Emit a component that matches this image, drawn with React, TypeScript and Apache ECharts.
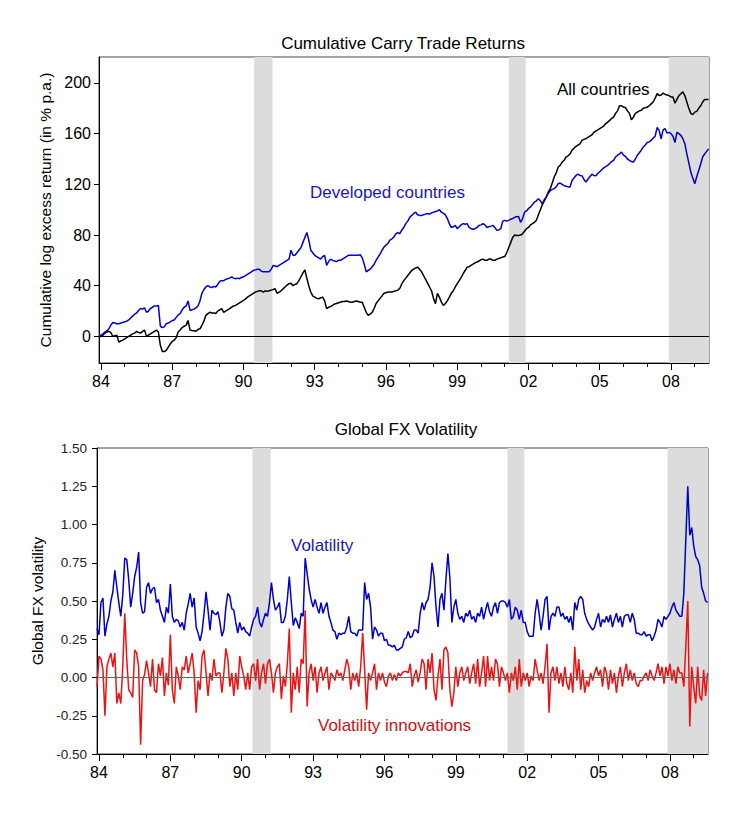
import React, { useEffect, useRef } from "react";
import * as echarts from "echarts";

// Monthly observations, Dec 1983 .. Aug 2009
const firstYear = 1984;
const firstMonthOffset = -1; // Dec 1983

const xTickYears = [1984, 1985, 1986, 1987, 1988, 1989, 1990, 1991, 1992, 1993, 1994, 1995, 1996, 1997, 1998, 1999, 2000, 2001, 2002, 2003, 2004, 2005, 2006, 2007, 2008, 2009];
const xLabelYears = [1984, 1987, 1990, 1993, 1996, 1999, 2002, 2005, 2008];
const topYTicks = [0, 40, 80, 120, 160, 200];
const recessions = [
  [1990.45, 1991.22],
  [2001.17, 2001.88],
  [2007.9, 2009.6],
];

const allCountries = [
  0,
  0, 1, 2.6, 3.5, 4, 3, 0, 0.5, 1, -4.5, -3.5, -3,
  -2, -1, 0, 1, 2, 2.6, 4, 3, 2.6, 4, 5, 0,
  1, 2, 3, 4, 5, 3.4, -7, -12, -12, -11, -8.4, -6,
  -4, -3, -1, 3.4, 5, 7, 8, 8.7, 12.6, 5, 4.7, 4.5,
  4, 5.5, 6, 8.7, 12, 16.6, 18, 19, 18.5, 18.5, 18, 20,
  21, 22, 19, 20, 21, 22, 23, 24, 24.5, 25.5, 26.5, 27.5,
  28.5, 29.5, 31, 32, 33, 34, 35, 35.5, 36, 36, 35, 36,
  35.5, 36, 36.5, 37, 37.6, 34, 35, 36, 37.5, 39, 40.5, 41.6,
  42, 40, 41, 41.6, 44, 47, 50, 52.5, 46, 40, 35, 32,
  31, 30, 29.7, 30.5, 31, 28, 22, 23, 23.5, 24.5, 25.5, 26,
  26.5, 27, 27.5, 27.5, 28, 27.5, 27, 27, 27.5, 28, 27.5, 27,
  27, 23, 19, 16.6, 17.5, 19, 22, 26, 28, 30, 32, 34,
  34.5, 35, 35, 35, 35.5, 36, 36.5, 38, 41.6, 44, 46, 48,
  50, 52, 53, 54, 54.7, 53, 51, 48, 45, 42, 39, 36,
  30, 25.8, 34, 31, 27, 24.5, 26, 28, 31, 34, 36, 39,
  41.6, 44, 46.5, 49.5, 52, 54.7, 55, 56, 57, 58, 58.7, 59.5,
  60.5, 61, 60, 60, 61, 61, 60, 60, 61, 61.5, 62, 62.6,
  63, 66, 70, 74, 78, 80, 79.7, 79.7, 80, 81, 83, 85,
  86, 88, 89, 90, 91.6, 96, 100, 104, 107, 110, 114, 116.6,
  121, 125.8, 129, 133.7, 135, 137.6, 139, 141.6, 142.5, 144, 147, 148.5,
  150, 151, 152, 154.7, 155.5, 156, 157, 158, 159, 161, 162, 163,
  164, 165, 166, 168, 169, 170.5, 172, 173, 176, 178, 182, 182,
  181, 180.5, 178, 176, 171, 173, 176, 177, 178, 178.5, 180, 180.5,
  181, 182, 183.5, 185, 188, 191.6, 190, 190.5, 192, 191, 190.5, 190,
  189, 189, 184, 187, 190, 191.5, 193, 190, 185, 180, 176, 175,
  177, 177.6, 180, 182, 185, 187, 187, 187,
];

const developedCountries = [
  0,
  1, 2, 3.4, 4.5, 6, 9, 11, 10.5, 10, 10, 10.5, 11,
  11.5, 12, 13, 14.5, 16, 17.5, 18.5, 20.5, 22, 21.5, 22.5, 19,
  20, 22, 23, 24, 24, 24.5, 8, 7, 7.5, 10, 10.5, 11.5,
  12.5, 13, 15, 17, 18, 21, 23, 24, 28, 20.5, 21, 21.5,
  22.5, 24, 28, 34, 37, 39, 40, 39, 38.5, 39.5, 39, 41,
  43.5, 44, 44, 45, 45.5, 46, 47, 46, 45.5, 46, 45.5, 46.5,
  47, 48, 49, 50, 51, 52, 52.5, 53, 53, 51.5, 51, 51,
  51, 51, 53, 56, 55.5, 55, 56, 57, 58, 59, 60, 61,
  68, 64, 64, 66, 68, 70, 74, 78, 82, 76, 68, 66,
  64, 63, 62, 61, 63, 64, 56, 59, 61, 60, 59.5, 59,
  60, 60, 61, 62, 63, 64, 64, 64, 64, 64, 64, 64.5,
  62, 57, 51, 52, 53, 55, 57, 60, 62.5, 65, 68, 70.5,
  72, 73.5, 76, 77, 78.5, 81, 82, 81, 84, 86, 89, 91,
  94, 95.5, 97, 98, 96, 95.5, 95.5, 96, 96.5, 97, 96.5, 97.5,
  98, 98.5, 99, 100, 98, 97, 96, 93, 89, 86, 86.5, 87.6,
  85, 86.5, 88, 89, 88.5, 89, 86, 85, 84.5, 85, 86, 87.6,
  88, 89, 88, 86, 86.5, 87, 87.6, 86, 83.7, 84, 85, 91,
  91.6, 91, 91.6, 92.5, 93, 94, 94.5, 94.7, 90, 93, 98, 99,
  101, 102, 104, 106, 107, 108.7, 107, 104.7, 108, 110, 113, 115,
  116, 116.6, 118, 120.5, 121, 120, 119, 118.5, 118, 118, 123, 125,
  127, 128, 127, 126.8, 124, 121.8, 124, 126, 128, 127, 126.8, 128.5,
  130, 131.5, 133, 134, 135, 136.5, 138, 139, 141.6, 143, 144, 145.5,
  143, 142, 140, 139, 138, 137.6, 140, 143, 145, 147, 149.5, 151,
  153, 153.5, 154.7, 156.5, 158, 165, 162.6, 156, 163, 164, 160.5, 161,
  160, 158, 153, 161, 160, 158.7, 156, 152, 144, 137, 129.7, 125,
  120.5, 126, 131, 136, 141.6, 144, 146, 148,
];

const volatility = [
  0.32,
  0.28, 0.49, 0.52, 0.27, 0.35, 0.40, 0.50, 0.56, 0.70, 0.59, 0.49, 0.40,
  0.54, 0.78, 0.77, 0.64, 0.46, 0.55, 0.66, 0.72, 0.82, 0.49, 0.42, 0.43,
  0.59, 0.62, 0.55, 0.58, 0.59, 0.49, 0.51, 0.44, 0.40, 0.36, 0.46, 0.42,
  0.61, 0.40, 0.36, 0.38, 0.37, 0.33, 0.36, 0.31, 0.42, 0.48, 0.55, 0.46,
  0.52, 0.33, 0.29, 0.24, 0.30, 0.42, 0.56, 0.44, 0.31, 0.44, 0.42, 0.41,
  0.43, 0.36, 0.27, 0.31, 0.46, 0.55, 0.53, 0.45, 0.44, 0.36, 0.29, 0.36,
  0.31, 0.33, 0.30, 0.29, 0.27, 0.33, 0.38, 0.40, 0.46, 0.36, 0.33, 0.38,
  0.42, 0.40, 0.49, 0.62, 0.51, 0.44, 0.46, 0.49, 0.36, 0.36, 0.40, 0.51,
  0.66, 0.49, 0.34, 0.39, 0.36, 0.32, 0.42, 0.40, 0.78, 0.68, 0.58, 0.51,
  0.46, 0.51, 0.46, 0.42, 0.49, 0.42, 0.46, 0.49, 0.40, 0.36, 0.31, 0.30,
  0.25, 0.29, 0.28, 0.29, 0.29, 0.33, 0.40, 0.30, 0.29, 0.29, 0.27, 0.31,
  0.31, 0.31, 0.62, 0.51, 0.55, 0.46, 0.25, 0.33, 0.31, 0.27, 0.29, 0.29,
  0.24, 0.25, 0.21, 0.21, 0.20, 0.21, 0.18, 0.18, 0.19, 0.20, 0.25, 0.26,
  0.30, 0.26, 0.27, 0.31, 0.31, 0.29, 0.42, 0.49, 0.44, 0.49, 0.51, 0.59,
  0.75, 0.66, 0.46, 0.33, 0.51, 0.55, 0.44, 0.64, 0.81, 0.65, 0.36, 0.46,
  0.51, 0.42, 0.38, 0.40, 0.36, 0.42, 0.40, 0.44, 0.38, 0.40, 0.36, 0.42,
  0.40, 0.46, 0.38, 0.44, 0.49, 0.43, 0.40, 0.46, 0.49, 0.42, 0.49, 0.50,
  0.50, 0.49, 0.46, 0.51, 0.38, 0.40, 0.46, 0.44, 0.38, 0.44, 0.36, 0.36,
  0.30, 0.27, 0.27, 0.27, 0.42, 0.51, 0.42, 0.31, 0.40, 0.51, 0.53, 0.31,
  0.40, 0.42, 0.40, 0.46, 0.46, 0.40, 0.42, 0.38, 0.40, 0.36, 0.40, 0.31,
  0.49, 0.44, 0.51, 0.53, 0.51, 0.42, 0.38, 0.35, 0.33, 0.31, 0.33, 0.38,
  0.42, 0.33, 0.38, 0.36, 0.40, 0.36, 0.41, 0.33, 0.38, 0.42, 0.36, 0.40,
  0.33, 0.40, 0.41, 0.41, 0.36, 0.42, 0.38, 0.29, 0.29, 0.28, 0.28, 0.30,
  0.27, 0.28, 0.28, 0.24, 0.27, 0.31, 0.38, 0.36, 0.33, 0.40, 0.38, 0.40,
  0.42, 0.46, 0.49, 0.44, 0.42, 0.40, 0.40, 0.55, 0.90, 1.25, 0.93, 0.98,
  0.86, 0.79, 0.77, 0.73, 0.59, 0.55, 0.50, 0.49,
];

const innovations = [
  -0.06,
  0.14, 0.12, 0.05, -0.25, 0.07, 0.12, 0.16, 0.07, 0.16, -0.17, -0.10, -0.17,
  0.07, 0.42, 0.12, -0.08, -0.10, -0.13, 0.18, 0.16, 0.07, -0.44, -0.02, 0.02,
  0.11, 0.03, -0.06, 0.12, -0.08, -0.10, 0.09, 0.01, 0.13, -0.12, 0.03, -0.05,
  0.28, -0.08, -0.17, 0.07, 0.01, -0.08, 0.07, 0.05, 0.14, 0.03, 0.09, 0.16,
  0.03, -0.23, -0.02, -0.08, 0.14, 0.18, 0.03, -0.12, 0.03, -0.02, 0.12, 0.01,
  0.03, 0.03, -0.10, 0.03, 0.19, 0.12, -0.06, 0.03, -0.12, 0.03, -0.08, 0.14,
  0.07, 0.01, -0.08, 0.03, -0.08, 0.07, 0.09, -0.02, 0.12, -0.08, 0.03, 0.09,
  -0.04, 0.09, 0.12, 0.03, -0.10, 0.03, 0.07, 0.09, -0.14, 0.01, -0.06, 0.09,
  0.32, -0.23, 0.03, -0.08, 0.07, -0.10, 0.12, 0.09, 0.44, -0.19, 0.03, 0.09,
  -0.02, 0.07, -0.10, 0.03, 0.07, -0.02, 0.03, 0.07, -0.08, 0.03, 0.01, -0.02,
  0.05, 0.01, 0.03, -0.02, 0.05, 0.12, 0.07, -0.08, 0.03, -0.02, 0.03, -0.06,
  0.07, 0.29, 0.05, -0.21, 0.03, -0.02, 0.03, 0.09, -0.08, 0.03, -0.02, 0.03,
  -0.03, -0.06, 0.01, 0.03, -0.02, 0.02, -0.02, 0.03, 0.01, 0.03, 0.04, 0.04,
  0.03, 0.09, -0.06, 0.01, 0.05, -0.03, 0.03, 0.12, 0.09, -0.08, 0.12, 0.03,
  0.16, -0.08, -0.15, 0.01, 0.12, -0.08, 0.18, 0.20, 0.16, -0.08, -0.19, -0.10,
  0.07, -0.06, 0.03, 0.07, -0.02, 0.03, 0.07, -0.04, 0.03, 0.09, -0.04, 0.12,
  -0.06, 0.03, 0.14, -0.06, 0.14, -0.02, 0.07, -0.02, 0.12, 0.09, -0.06, 0.07,
  0.03, -0.02, 0.03, -0.10, 0.03, -0.02, 0.07, -0.08, 0.12, -0.06, 0.03, -0.02,
  0.03, -0.06, 0.01, -0.02, 0.12, 0.05, -0.02, 0.03, -0.04, 0.07, 0.22, -0.23,
  0.03, 0.07, -0.02, 0.07, -0.04, 0.03, -0.06, 0.07, -0.04, -0.08, 0.03, -0.10,
  0.20, -0.02, 0.12, -0.08, 0.05, -0.10, -0.02, -0.06, 0.03, -0.02, 0.03, 0.07,
  0.01, 0.05, -0.06, 0.07, 0.03, -0.08, 0.05, -0.04, 0.03, -0.10, 0.01, 0.07,
  -0.06, 0.03, 0.09, -0.02, 0.05, -0.02, 0.03, -0.04, -0.06, -0.02, -0.02, 0.01,
  0.03, -0.02, 0.05, 0.01, -0.02, 0.03, 0.09, 0.01, 0.07, -0.04, 0.07, 0.01,
  0.09, -0.02, 0.05, -0.04, 0.07, 0.03, 0.03, -0.06, 0.20, 0.50, -0.32, 0.07,
  -0.06, -0.17, 0.07, -0.12, -0.15, 0.05, -0.12, 0.03,
];

const FONT = "'Liberation Sans', Arial, Helvetica, sans-serif";
const BLUE = "#0000cc";
const RED = "#ee1111";

const toPairs = (arr: number[]) =>
  arr.map((v, i) => [firstYear + (i + firstMonthOffset) / 12, v]);

const xMin = firstYear + firstMonthOffset / 12;
const xMax = 2009.6;

function makeXAxis(gridIndex: number) {
  return {
    type: "value",
    gridIndex,
    min: xMin,
    max: xMax,
    axisLine: { show: true, onZero: false, lineStyle: { color: "#000", width: 1 } },
    axisTick: {
      show: true,
      customValues: xLabelYears,
      length: 7,
      lineStyle: { color: "#000", width: 1 },
    },
    axisLabel: {
      customValues: xLabelYears,
      formatter: (v: number) => String(Math.round(v) % 100).padStart(2, "0"),
      fontSize: 16,
      color: "#000",
      fontFamily: FONT,
      margin: 10,
    },
    splitLine: { show: false },
  };
}

function makeMinorXAxis(gridIndex: number) {
  return {
    type: "value",
    gridIndex,
    position: "bottom",
    min: xMin,
    max: xMax,
    axisLine: { show: false, onZero: false },
    axisTick: {
      show: true,
      customValues: xTickYears,
      length: 4,
      lineStyle: { color: "#000", width: 1 },
    },
    axisLabel: { show: false },
    splitLine: { show: false },
  };
}

const recessionArea = {
  silent: true,
  itemStyle: { color: "#dcdcdc" },
  label: { show: false },
  data: recessions.map(([a, b]) => [{ xAxis: a }, { xAxis: b }]),
};

export default function App() {
  const ref = useRef<HTMLDivElement>(null);
  useEffect(() => {
    if (!ref.current) return;
    const chart = echarts.init(ref.current, undefined, { renderer: "svg" });
    const option = {
      animation: false,
      backgroundColor: "#fff",
      grid: [
        { left: 99, right: 41, top: 57, height: 306, show: true, borderColor: "#444", borderWidth: 1, containLabel: false },
        { left: 97, right: 42, top: 448, height: 306, show: true, borderColor: "#444", borderWidth: 1, containLabel: false },
      ],
      xAxis: [makeXAxis(0), makeXAxis(1), makeMinorXAxis(0), makeMinorXAxis(1)],
      yAxis: [
        {
          type: "value",
          gridIndex: 0,
          min: -21,
          max: 220.5,
          axisLine: { show: true, onZero: false, lineStyle: { color: "#000" } },
          axisTick: { show: true, customValues: topYTicks, length: 5, lineStyle: { color: "#000" } },
          axisLabel: { customValues: topYTicks, fontSize: 16, color: "#000", fontFamily: FONT, margin: 8 },
          splitLine: { show: false },
          name: "Cumulative log excess return (in % p.a.)",
          nameLocation: "middle",
          nameGap: 45,
          nameTextStyle: { fontSize: 15.5, color: "#000", fontFamily: FONT },
        },
        {
          type: "value",
          gridIndex: 1,
          min: -0.5,
          max: 1.5,
          interval: 0.25,
          axisLine: { show: true, onZero: false, lineStyle: { color: "#000" } },
          axisTick: { show: true, length: 5, lineStyle: { color: "#000" } },
          axisLabel: {
            formatter: (v: number) => v.toFixed(2),
            fontSize: 13.5,
            color: "#222",
            fontFamily: FONT,
            margin: 10,
          },
          splitLine: { show: false },
          name: "Global FX volatility",
          nameLocation: "middle",
          nameGap: 47,
          nameTextStyle: { fontSize: 15.5, color: "#000", fontFamily: FONT },
        },
      ],
      series: [
        {
          type: "line",
          name: "All countries",
          xAxisIndex: 0,
          yAxisIndex: 0,
          data: toPairs(allCountries),
          showSymbol: false,
          symbol: "none",
          lineStyle: { color: "#000", width: 1.5 },
          z: 3,
          markArea: recessionArea,
          markLine: {
            silent: true,
            symbol: "none",
            label: { show: false },
            lineStyle: { color: "#000", width: 1, type: "solid" },
            data: [{ yAxis: 0 }],
          },
        },
        {
          type: "line",
          name: "Developed countries",
          xAxisIndex: 0,
          yAxisIndex: 0,
          data: toPairs(developedCountries),
          showSymbol: false,
          symbol: "none",
          lineStyle: { color: BLUE, width: 1.5 },
          z: 4,
        },
        {
          type: "line",
          name: "Volatility innovations",
          xAxisIndex: 1,
          yAxisIndex: 1,
          data: toPairs(innovations),
          showSymbol: false,
          symbol: "none",
          lineStyle: { color: RED, width: 1.5 },
          z: 4,
          markArea: recessionArea,
          markLine: {
            silent: true,
            symbol: "none",
            label: { show: false },
            lineStyle: { color: "#666", width: 1, type: "solid" },
            data: [{ yAxis: 0 }],
          },
        },
        {
          type: "line",
          name: "Volatility",
          xAxisIndex: 1,
          yAxisIndex: 1,
          data: toPairs(volatility),
          showSymbol: false,
          symbol: "none",
          lineStyle: { color: BLUE, width: 1.5 },
          z: 5,
        },
      ],
      graphic: [
        { type: "text", x: 403, y: 43, style: { text: "Cumulative Carry Trade Returns", fontSize: 17, fontFamily: FONT, fill: "#000", textAlign: "center", textVerticalAlign: "middle" } },
        { type: "text", x: 406, y: 429, style: { text: "Global FX Volatility", fontSize: 17, fontFamily: FONT, fill: "#000", textAlign: "center", textVerticalAlign: "middle" } },
        { type: "text", x: 557, y: 89, z: 10, style: { text: "All countries", fontSize: 17, fontFamily: FONT, fill: "#000", textAlign: "left", textVerticalAlign: "middle" } },
        { type: "text", x: 310, y: 192, z: 10, style: { text: "Developed countries", fontSize: 17, fontFamily: FONT, fill: "#1a1ab0", textAlign: "left", textVerticalAlign: "middle" } },
        { type: "text", x: 291, y: 545, z: 10, style: { text: "Volatility", fontSize: 17, fontFamily: FONT, fill: "#1a1ab0", textAlign: "left", textVerticalAlign: "middle" } },
        { type: "text", x: 318, y: 725, z: 10, style: { text: "Volatility innovations", fontSize: 17, fontFamily: FONT, fill: "#d01010", textAlign: "left", textVerticalAlign: "middle" } },
      ],
    };
    chart.setOption(option as any);
    return () => chart.dispose();
  }, []);
  return (
    <div
      ref={ref}
      style={{ position: "fixed", left: 0, top: 0, width: 750, height: 813, background: "#fff" }}
    />
  );
}
